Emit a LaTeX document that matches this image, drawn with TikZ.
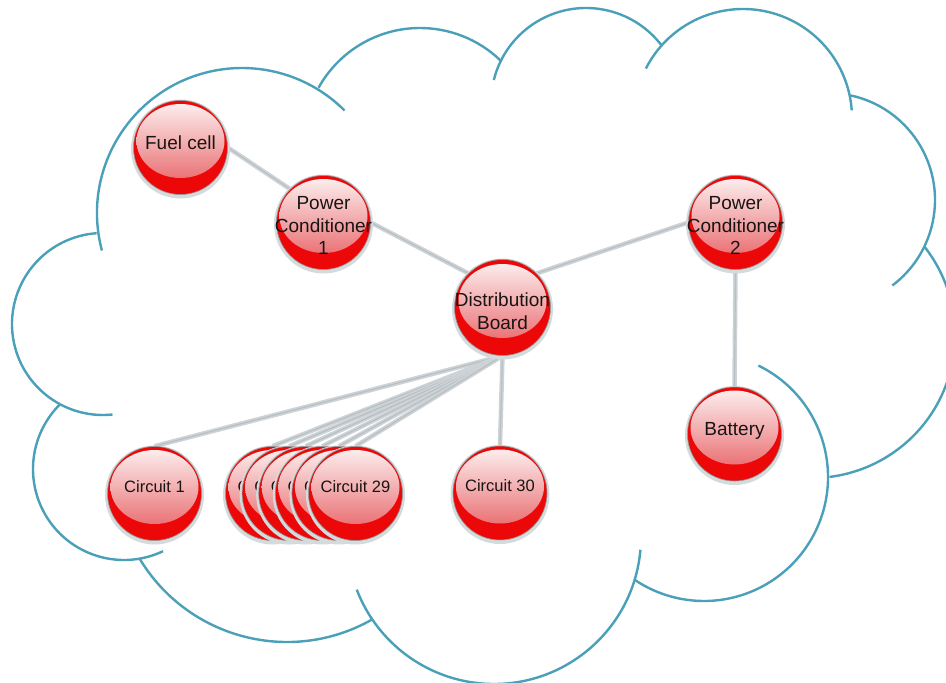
\documentclass[tikz,border=0pt]{standalone}
\usepackage{fontspec}
\setmainfont{Liberation Sans}
\usetikzlibrary{shadings}
\definecolor{cloudline}{RGB}{74,160,185}
\definecolor{ballred}{RGB}{236,8,8}
\definecolor{ringgray}{RGB}{212,219,221}
\definecolor{rimgray}{RGB}{150,150,150}
\definecolor{hltop}{RGB}{253,242,242}
\definecolor{hlbot}{RGB}{230,88,92}
\definecolor{wire}{RGB}{205,211,214}
\definecolor{wirecore}{RGB}{184,192,196}
\definecolor{labelink}{RGB}{25,20,20}
\pgfdeclarelayer{bg}
\pgfsetlayers{bg,main}
\tikzset{
  ball/.style={circle, minimum size=94pt, inner sep=0pt, fill=ballred, draw=rimgray, line width=0.6pt,
    preaction={draw=ringgray, line width=5pt, transform canvas={yshift=-1.5pt}},
    path picture={\fill[top color=hltop, bottom color=hlbot]
      ([yshift=6.5pt]path picture bounding box.center) ellipse [x radius=44pt, y radius=37pt];}},
  bigball/.style={ball, minimum size=96pt},
  lbl/.style={font=\fontsize{19}{22.75}\selectfont, text=labelink, align=center, inner sep=0pt},
  clbl/.style={font=\fontsize{16.5}{20}\selectfont, text=labelink, inner sep=0pt, anchor=base},
  hidlbl/.style={clbl, anchor=base west},
  wireline/.style={draw=wire, line width=4.5pt, postaction={draw=wirecore, line width=1.2pt}},
  cloudarc/.style={draw=cloudline, line width=2.4pt},
}
\begin{document}
\begin{tikzpicture}[x=1pt, y=-1pt]
\useasboundingbox (0,0) rectangle (946,683);

% nodes
\node[ball] (fuel) at (180.5,147.5) {};
\node[lbl, anchor=base] (fuelT) at ([yshift=-2pt]fuel.center) {Fuel cell};
\node[ball] (pc1) at (323.5,222.5) {};
\node[lbl] (pc1T) at ([yshift=-3pt]pc1.center) {Power\\Conditioner\\1};
\node[bigball] (db) at (502.5,307.5) {};
\node[lbl] (dbT) at ([yshift=-4pt]db.center) {Distribution\\Board};
\node[ball] (pc2) at (735.5,222.5) {};
\node[lbl] (pc2T) at ([yshift=-3pt]pc2.center) {Power\\Conditioner\\2};
\node[ball] (bat) at (734.5,434) {};
\node[lbl, anchor=base] (batT) at ([yshift=-1.3pt]bat.center) {Battery};
\node[ball] (c1) at (154.5,493.5) {};
\node[clbl] (c1T) at ([yshift=1.5pt]c1.center) {Circuit 1};
\node[ball] (c24) at (272.5,493.5) {};
\node[hidlbl] (c24T) at ([xshift=-35pt, yshift=1.5pt]c24.center) {C};
\node[ball] (c25) at (289.1,493.5) {};
\node[hidlbl] (c25T) at ([xshift=-35pt, yshift=1.5pt]c25.center) {C};
\node[ball] (c26) at (305.7,493.5) {};
\node[hidlbl] (c26T) at ([xshift=-35pt, yshift=1.5pt]c26.center) {C};
\node[ball] (c27) at (322.3,493.5) {};
\node[hidlbl] (c27T) at ([xshift=-35pt, yshift=1.5pt]c27.center) {C};
\node[ball] (c28) at (338.9,493.5) {};
\node[hidlbl] (c28T) at ([xshift=-35pt, yshift=1.5pt]c28.center) {C};
\node[ball] (c29) at (355.5,493.5) {};
\node[clbl] (c29T) at ([yshift=1.5pt]c29.center) {Circuit 29};
\node[ball] (c30) at (500,493) {};
\node[clbl] (c30T) at ([yshift=1.5pt]c30.center) {Circuit 30};

\begin{pgfonlayer}{bg}
\fill[white] (0,0) rectangle (946,683);
% cloud outline
\draw[cloudarc] (103,324) ++(84:91) arc[start angle=84, end angle=266, radius=91];
\draw[cloudarc] (242,213) ++(165:145) arc[start angle=165, end angle=315, radius=145];
\draw[cloudarc] (420,144) ++(209:116) arc[start angle=209, end angle=314, radius=116];
\draw[cloudarc] (586,103) ++(194:95) arc[start angle=194, end angle=323, radius=95];
\draw[cloudarc] (743,118) ++(207:109) arc[start angle=207, end angle=356, radius=109];
\draw[cloudarc] (828,200) ++(282:107) arc[start angle=282, end angle=413, radius=107];
\draw[cloudarc] (812,335) ++(-38:143) arc[start angle=-38, end angle=83, radius=143];
\draw[cloudarc] (704,477) ++(-64:124) arc[start angle=-64, end angle=124, radius=124];
\draw[cloudarc] (494,537) ++(5:147) arc[start angle=5, end angle=159, radius=147];
\draw[cloudarc] (287,470) ++(60.5:172) arc[start angle=60.5, end angle=149, radius=172];
\draw[cloudarc] (124,469) ++(64.6:91) arc[start angle=64.6, end angle=225, radius=91];
% connectors
\draw[wireline] (fuel.east) -- (pc1.north west);
\draw[wireline] (pc1.east) -- (db.north west);
\draw[wireline] (db.north east) -- (pc2.west);
\draw[wireline] (pc2.south) -- (bat.north);
\draw[wireline] (db.south) -- (c30.north);
\draw[wireline] (db.south) -- (c1.north);
\draw[wireline] (db.south) -- (c24.north);
\draw[wireline] (db.south) -- (c25.north);
\draw[wireline] (db.south) -- (c26.north);
\draw[wireline] (db.south) -- (c27.north);
\draw[wireline] (db.south) -- (c28.north);
\draw[wireline] (db.south) -- (c29.north);
\end{pgfonlayer}
\end{tikzpicture}
\end{document}
